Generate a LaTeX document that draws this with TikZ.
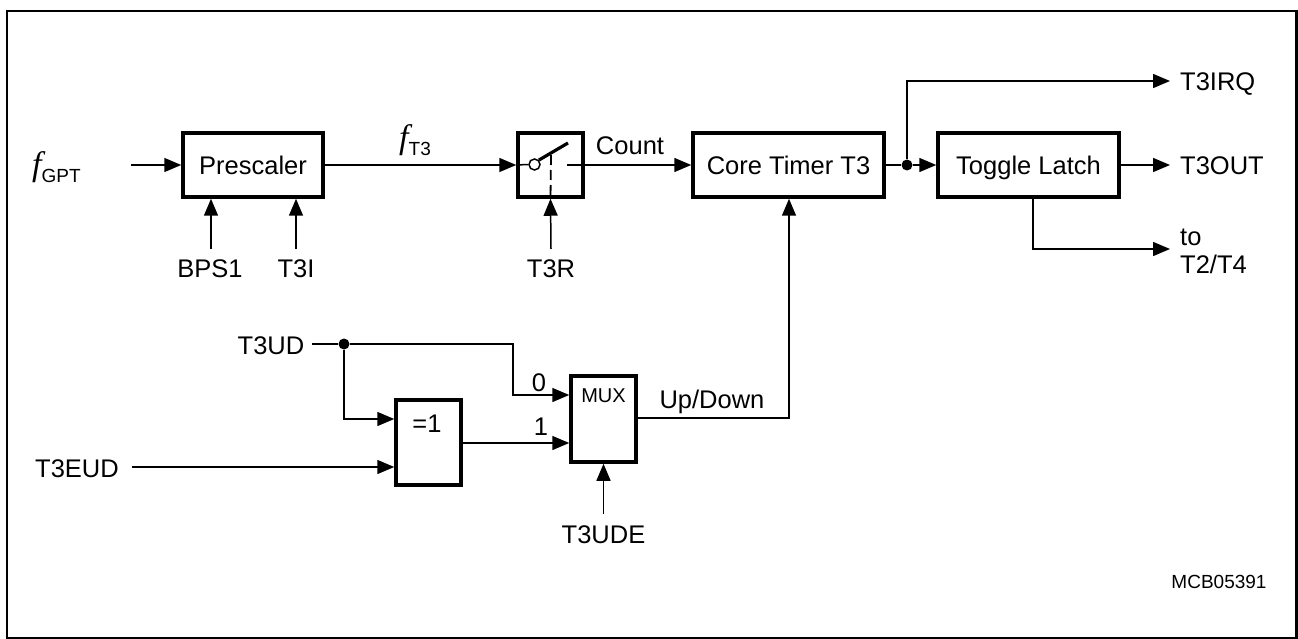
\documentclass[tikz,border=0pt]{standalone}
\usepackage{fontspec}
\setmainfont{Liberation Sans}
\newfontfamily\tserif{Liberation Serif}
\usetikzlibrary{arrows.meta}
\begin{document}
\begin{tikzpicture}[x=1pt,y=-1pt,
  blk/.style={draw, line width=3.5pt, rectangle, inner sep=0pt, font=\fontsize{25.5}{30}\selectfont, text height=18.3pt, text depth=0pt},
  con/.style={line width=1.5pt, -{Triangle[length=17pt,width=14pt]}},
  ln/.style={line width=1.5pt},
  lbl/.style={inner sep=0pt, font=\fontsize{25.5}{30}\selectfont, text height=18.3pt, text depth=0pt},
  jdot/.style={circle, fill, inner sep=0pt, minimum size=11pt}]
\useasboundingbox (0,0) rectangle (1298,639);
\draw[line width=2.5pt] (7,11) rectangle (1296.5,638);

% blocks
\node[blk, minimum width=140pt, minimum height=64pt] (presc) at (253,165) {Prescaler};
\node[blk, minimum width=65pt, minimum height=64pt] (sw) at (550.5,165) {};
\node[blk, minimum width=191pt, minimum height=64pt] (core) at (788.5,165) {Core Timer T3};
\node[blk, minimum width=181pt, minimum height=64pt] (latch) at (1028.5,165) {Toggle Latch};
\node[blk, minimum width=65pt, minimum height=85pt] (xor) at (428.5,442.5) {};
\node[lbl] (xortxt) at (427,423) {=1};
\node[blk, minimum width=65pt, minimum height=86pt] (mux) at (603.5,419) {};
\node[lbl, font=\fontsize{20}{24}\selectfont, text height=14.3pt] (muxtxt) at (603.5,395) {MUX};

% switch internals
\node[circle, draw, fill=white, line width=1.5pt, inner sep=0pt, minimum size=11pt] (swc) at (534.5,164.5) {};
\coordinate (swtip) at (568,143);
\coordinate (swout) at (567,165);
\coordinate (dashtop) at (551,155);
\draw[ln] (sw.west) -- (swc.west);
\draw[line width=3.2pt] (swc.north east) -- (swtip);
\draw[line width=1.8pt, dash pattern=on 10pt off 5pt] (dashtop) -- (sw.south);

% top row labels and inputs
\node[inner sep=0pt, anchor=base west] (fgpt) at (32,176) {{\tserif\itshape\fontsize{34}{34}\selectfont f}\raisebox{-7pt}{\fontsize{19}{22}\selectfont GPT}};
\coordinate (fin) at (131,165);
\draw[con] (fin) -- (presc.west);
\draw[con] (presc.east) -- (sw.west);
\node[inner sep=0pt, anchor=base west] (ft3) at (399,149) {{\tserif\itshape\fontsize{34}{34}\selectfont f}\raisebox{-7pt}{\fontsize{19}{22}\selectfont T3}};
\draw[con] (swout) -- (core.west);
\node[lbl] (count) at (630,145.5) {Count};

\coordinate (bpsin) at (211,249);
\coordinate (t3iin) at (296,249);
\coordinate (t3rin) at (551,249);
\draw[con] (bpsin) -- (bpsin |- presc.south);
\draw[con] (t3iin) -- (t3iin |- presc.south);
\draw[con] (t3rin) -- (sw.south);
\node[lbl] (bps1) at (210,268) {BPS1};
\node[lbl] (t3i) at (296,268) {T3I};
\node[lbl] (t3r) at (551,268) {T3R};

% outputs
\node[jdot] (j1) at (907,165) {};
\draw[ln] (core.east) -- (j1);
\draw[con] (j1) -- (latch.west);
\coordinate (irq) at (1170,81);
\coordinate (out) at (1170,165);
\coordinate (t24) at (1170,249);
\draw[con] (j1) |- (irq);
\draw[con] (latch.east) -- (out);
\draw[con] (latch.south -| 1033,0) |- (t24);
\node[lbl, anchor=west] (t3irq) at (1180,81) {T3IRQ};
\node[lbl, anchor=west] (t3out) at (1180,165) {T3OUT};
\node[inner sep=0pt, anchor=base west, align=left, font=\fontsize{25.5}{28}\selectfont] (t2t4) at (1180,273) {to\\T2/T4};

% lower part
\node[lbl] (t3ud) at (271,345) {T3UD};
\coordinate (udin) at (312,344);
\node[jdot] (j2) at (344,344) {};
\draw[ln] (udin) -- (j2);
\draw[con] (j2) -- (513,344) -- (513,395) -- (mux.west |- 0,395);
\draw[con] (j2) |- (xor.west |- 0,419);
\node[lbl] (t3eud) at (77,468) {T3EUD};
\coordinate (eudin) at (132,467);
\draw[con] (eudin) -- (xor.west |- eudin);
\draw[con] (xor.east |- 0,443) -- (mux.west |- 0,443);
\node[lbl] (l0) at (539,382) {0};
\node[lbl] (l1) at (541,426) {1};
\draw[con] (mux.east |- 0,418) -| (core.south -| 789,0);
\node[lbl] (updown) at (712,399) {Up/Down};
\coordinate (udein) at (603.5,514);
\draw[con] (udein) -- (mux.south);
\node[lbl] (t3ude) at (603.5,534) {T3UDE};

\node[lbl, font=\fontsize{19}{22}\selectfont, text height=13.6pt] (mcb) at (1219,582) {MCB05391};
\end{tikzpicture}
\end{document}
